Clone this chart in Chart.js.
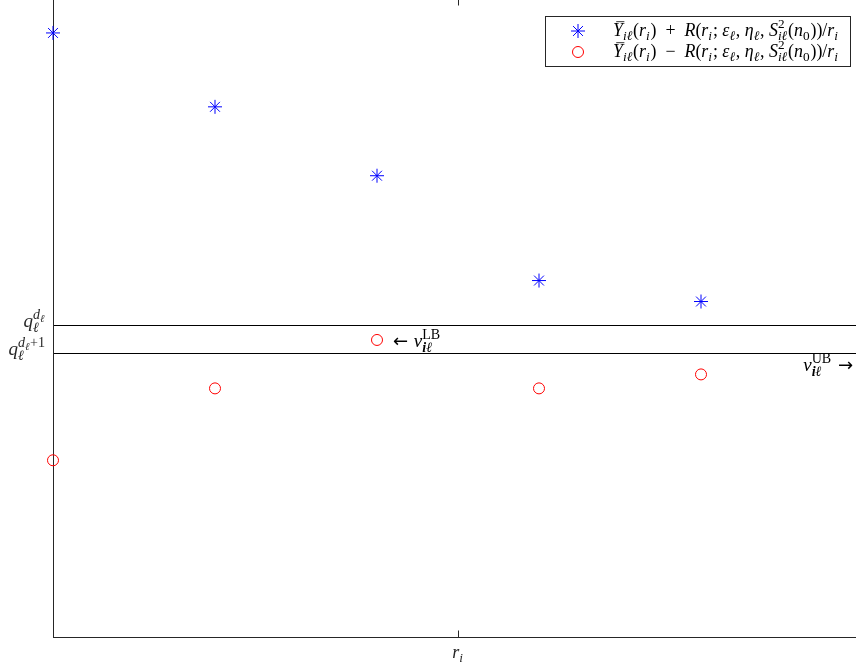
<!DOCTYPE html>
<html>
<head>
<meta charset="utf-8">
<script src="https://cdn.jsdelivr.net/npm/chart.js@4.4.1/dist/chart.umd.min.js"></script>
<style>
  html, body { margin: 0; padding: 0; background: #fff; overflow: hidden; width: 856px; height: 670px; }
  #wrap { position: absolute; left: 0; top: -20px; width: 920px; height: 690px; }
</style>
</head>
<body>
<div id="wrap"><canvas id="chart" width="920" height="690"></canvas></div>
<script>
// Sample positions r_i and the two bound series
const rValues = [1, 2, 3, 4, 5];
const upperBound = [6.05, 5.31, 4.62, 3.57, 3.36];
const lowerBound = [1.77, 2.49, 2.975, 2.49, 2.63];

// Thresholds q^{d}, q^{d+1}
const thresholds = [3.125, 2.845];

const xRange = [1, 6];
const yRange = [0, 6.4];
const xTicks = [3.5];

const seriesLabels = [
  'Ȳ_iℓ(r_i) + R(r_i; ε_ℓ, η_ℓ, S²_iℓ(n_0))/r_i',
  'Ȳ_iℓ(r_i) − R(r_i; ε_ℓ, η_ℓ, S²_iℓ(n_0))/r_i'
];

const AXIS = '#262626';
const FAM = '"Liberation Serif", "DejaVu Serif", serif';
const SCRIPT = 0.74;

// Tiny math-text helpers (base text, sub/superscripts, bar)
const I = t => ({ t, it: 1 });
const N = t => ({ t });
const B = t => ({ t, it: 1, bold: 1 });
const A = t => ({ t, fam: '"DejaVu Sans", sans-serif', k: 0.95 });

function fnt(n, size) {
  return `${n.it ? 'italic ' : ''}${n.bold ? 'bold ' : ''}${size * (n.k || 1)}px ${n.fam || FAM}`;
}

function measureMath(ctx, nodes, size) {
  let w = 0;
  for (const n of nodes) {
    if (n.t !== undefined) {
      ctx.font = fnt(n, size);
      w += ctx.measureText(n.t).width;
    } else {
      const s = size * SCRIPT;
      w += Math.max(n.sup ? measureMath(ctx, n.sup, s) : 0, n.sub ? measureMath(ctx, n.sub, s) : 0) + size * 0.05;
    }
  }
  return w;
}

function drawMath(ctx, nodes, x, y, size) {
  for (const n of nodes) {
    if (n.t !== undefined) {
      ctx.font = fnt(n, size);
      const w = ctx.measureText(n.t).width;
      ctx.fillText(n.t, x, y);
      if (n.bar) {
        ctx.save();
        ctx.lineWidth = 0.8;
        ctx.beginPath();
        ctx.moveTo(x + size * 0.18, y - size * 0.8);
        ctx.lineTo(x + w + size * 0.08, y - size * 0.8);
        ctx.stroke();
        ctx.restore();
      }
      x += w;
    } else {
      const s = size * SCRIPT;
      let w = 0;
      if (n.sup) w = Math.max(w, drawMath(ctx, n.sup, x, y - size * 0.42, s) - x);
      if (n.sub) w = Math.max(w, drawMath(ctx, n.sub, x, y + size * 0.24, s) - x);
      x += w + size * 0.05;
    }
  }
  return x;
}

function boundLabel(sign) {
  return [
    { t: 'Y', it: 1, bar: 1 }, { sub: [I('iℓ')] }, N('('), I('r'), { sub: [I('i')] },
    N(')  ' + sign + '  '), I('R'), N('('), I('r'), { sub: [I('i')] }, N('; '),
    I('ε'), { sub: [I('ℓ')] }, N(', '), I('η'), { sub: [I('ℓ')] }, N(', '),
    I('S'), { sup: [N('2')], sub: [I('iℓ')] }, N('('), I('n'), { sub: [N('0')] },
    N('))/'), I('r'), { sub: [I('i')] }
  ];
}

const decorations = {
  id: 'decorations',
  beforeDatasetsDraw(chart) {
    const { ctx, chartArea: a, scales: { x, y } } = chart;
    ctx.save();
    // threshold lines
    ctx.strokeStyle = '#000';
    ctx.lineWidth = 1;
    thresholds.forEach(v => {
      const py = Math.round(y.getPixelForValue(v)) + 0.5;
      ctx.beginPath();
      ctx.moveTo(a.left, py);
      ctx.lineTo(a.right, py);
      ctx.stroke();
    });
    // box
    ctx.strokeStyle = AXIS;
    const L = Math.round(a.left) + 0.5, R = Math.round(a.right) - 0.5;
    const T = Math.round(a.top) + 0.5, Bt = Math.round(a.bottom) + 0.5;
    ctx.strokeRect(L, T, R - L, Bt - T);
    // inward ticks
    xTicks.forEach(v => {
      const px = Math.round(x.getPixelForValue(v)) + 0.5;
      ctx.beginPath();
      ctx.moveTo(px, Bt); ctx.lineTo(px, Bt - 7);
      ctx.moveTo(px, T); ctx.lineTo(px, T + 7);
      ctx.stroke();
    });
    ctx.restore();
  },
  afterDatasetsDraw(chart) {
    const { ctx, chartArea: a, scales: { x, y } } = chart;
    ctx.save();
    ctx.fillStyle = AXIS;
    ctx.strokeStyle = AXIS;
    ctx.textBaseline = 'alphabetic';

    // y tick labels
    const yLabels = [
      [I('q'), { sup: [I('d'), { sub: [I('ℓ')] }], sub: [I('ℓ')] }],
      [I('q'), { sup: [I('d'), { sub: [I('ℓ')] }, N('+1')], sub: [I('ℓ')] }]
    ];
    yLabels.forEach((lab, i) => {
      const size = 19;
      const w = measureMath(ctx, lab, size);
      drawMath(ctx, lab, a.left - 7 - w, y.getPixelForValue(thresholds[i]) + 2, size);
    });

    // x axis title
    const xt = [I('r'), { sub: [I('i')] }];
    const xw = measureMath(ctx, xt, 18);
    drawMath(ctx, xt, x.getPixelForValue(3.5) - xw / 2, a.bottom + 21, 18);

    // annotations
    ctx.fillStyle = '#000';
    const lb = [A('← '), I('v'), { sup: [N('LB')], sub: [B('iℓ')] }];
    drawMath(ctx, lb, x.getPixelForValue(rValues[2]) + 16, y.getPixelForValue(lowerBound[2]) + 7, 19);
    const ub = [I('v'), { sup: [N('UB')], sub: [B('iℓ')] }, A(' →')];
    const uw = measureMath(ctx, ub, 19);
    drawMath(ctx, ub, a.right - 10 - uw, y.getPixelForValue(thresholds[1]) + 18, 19);

    // legend
    const lx = a.right - 13 - 305, ly = a.top + 18, lw = 305, lh = 50;
    ctx.fillStyle = '#fff';
    ctx.fillRect(lx, ly, lw, lh);
    ctx.strokeStyle = AXIS;
    ctx.lineWidth = 1;
    ctx.strokeRect(Math.round(lx) + 0.5, Math.round(ly) + 0.5, lw, lh);
    const ds = chart.data.datasets;
    ['+', '−'].forEach((sign, i) => {
      const rowY = ly + 15 + i * 21;
      const d = ds[i];
      ctx.save();
      ctx.strokeStyle = d.borderColor;
      ctx.fillStyle = 'rgba(0,0,0,0)';
      ctx.lineWidth = 1;
      Chart.helpers.drawPoint(ctx, { pointStyle: d.pointStyle, radius: d.pointRadius, rotation: 0, borderWidth: 1 }, lx + 33, rowY);
      ctx.restore();
      const parts = boundLabel(sign);
      let size = 15;
      size = size * 226 / measureMath(ctx, parts, size);
      ctx.fillStyle = '#000';
      ctx.strokeStyle = '#000';
      drawMath(ctx, parts, lx + 68, rowY + 5, size);
    });
    ctx.restore();
  }
};

new Chart(document.getElementById('chart'), {
  type: 'scatter',
  data: {
    datasets: [
      {
        label: seriesLabels[0],
        data: rValues.map((r, i) => ({ x: r, y: upperBound[i] })),
        pointStyle: 'star',
        pointRadius: 7,
        borderColor: 'rgb(0,0,255)',
        backgroundColor: 'rgba(0,0,0,0)',
        borderWidth: 1,
        clip: false
      },
      {
        label: seriesLabels[1],
        data: rValues.map((r, i) => ({ x: r, y: lowerBound[i] })),
        pointStyle: 'circle',
        pointRadius: 5.5,
        borderColor: 'rgb(255,0,0)',
        backgroundColor: 'rgba(0,0,0,0)',
        borderWidth: 1,
        clip: false
      }
    ]
  },
  options: {
    responsive: false,
    animation: false,
    devicePixelRatio: 1,
    layout: { padding: { left: 53, top: 18, right: 57, bottom: 33 } },
    scales: {
      x: { type: 'linear', min: xRange[0], max: xRange[1], display: false },
      y: { type: 'linear', min: yRange[0], max: yRange[1], display: false }
    },
    plugins: { legend: { display: false }, tooltip: { enabled: false } }
  },
  plugins: [decorations]
});
</script>
</body>
</html>
